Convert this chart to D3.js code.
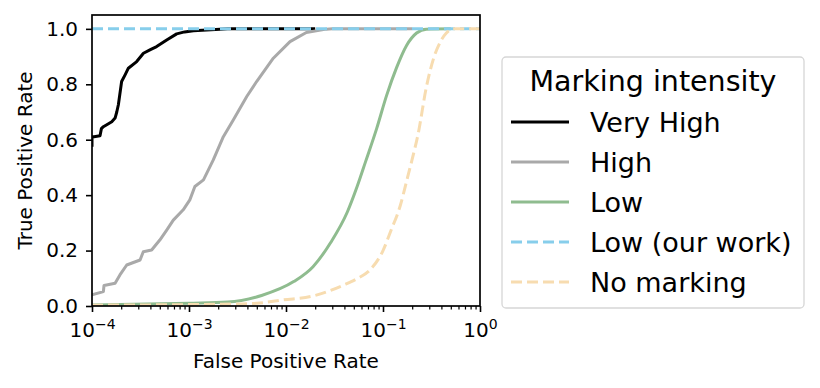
<!DOCTYPE html>
<html>
<head>
<meta charset="utf-8">
<script src="https://cdn.jsdelivr.net/npm/d3@7"></script>
<style>
  body { margin: 0; background: #fff; }
  text { font-family: "DejaVu Sans", sans-serif; fill: #000; }
</style>
</head>
<body>
<script>
// ROC curves (FPR on log scale)
const veryHighFpr = [1e-4, 1e-4, 1.05e-4, 1.21e-4, 1.25e-4, 1.31e-4, 1.6e-4, 1.73e-4, 1.8e-4, 1.87e-4, 2.02e-4, 2.2e-4, 2.37e-4, 2.89e-4, 3.39e-4, 4.0e-4, 4.64e-4, 5.89e-4, 7.46e-4, 9.0e-4, 1.11e-3, 2.09e-3, 2.5e-3, 0.02];
const veryHighTpr = [0.575, 0.611, 0.611, 0.614, 0.640, 0.647, 0.665, 0.678, 0.700, 0.726, 0.810, 0.835, 0.858, 0.882, 0.912, 0.925, 0.936, 0.960, 0.982, 0.989, 0.993, 0.999, 1.0, 1.0];

const highFpr = [1e-4, 1.31e-4, 1.33e-4, 1.73e-4, 1.94e-4, 2.28e-4, 3.13e-4, 3.38e-4, 4.12e-4, 5.0e-4, 5.89e-4, 6.89e-4, 8.72e-4, 1.02e-3, 1.15e-3, 1.41e-3, 1.78e-3, 2.26e-3, 2.86e-3, 3.94e-3, 4.98e-3, 7.4e-3, 1.1e-2, 1.62e-2, 2.6e-2, 3.0e-2, 0.2];
const highTpr = [0.040, 0.052, 0.074, 0.082, 0.112, 0.148, 0.166, 0.196, 0.202, 0.238, 0.274, 0.310, 0.347, 0.383, 0.431, 0.455, 0.527, 0.611, 0.671, 0.756, 0.810, 0.894, 0.954, 0.987, 0.999, 1.0, 1.0];

const lowFpr = [1e-4, 1e-3, 2.5e-3, 5.6e-3, 1.2e-2, 1.9e-2, 2.9e-2, 4.3e-2, 5.4e-2, 6.6e-2, 8.6e-2, 0.109, 0.138, 0.175, 0.222, 0.28, 0.5];
const lowTpr = [0.004, 0.010, 0.014, 0.038, 0.088, 0.142, 0.230, 0.340, 0.430, 0.520, 0.640, 0.760, 0.860, 0.940, 0.985, 0.999, 1.0];

const oursFpr = [1e-4, 1];
const oursTpr = [1.0, 1.0];

const noneFpr = [1e-4, 2.86e-3, 4.98e-3, 9.4e-3, 1.9e-2, 3.89e-2, 5.5e-2, 7.35e-2, 0.1, 0.12, 0.15, 0.175, 0.2, 0.23, 0.28, 0.33, 0.4, 0.45, 0.53, 1.0];
const noneTpr = [0.003, 0.007, 0.010, 0.022, 0.036, 0.075, 0.100, 0.130, 0.200, 0.270, 0.360, 0.450, 0.530, 0.620, 0.790, 0.890, 0.960, 0.985, 1.0, 1.0];

const seriesNames = ["Very High", "High", "Low", "Low (our work)", "No marking"];
const seriesColors = ["#000000", "#a9a9a9", "#8fbc8f", "#87ceeb", "#f7dcb0"];
const seriesDashed = [false, false, false, true, true];
const seriesSmooth = [false, false, true, false, true];

const xTickValues = [1e-4, 1e-3, 1e-2, 1e-1, 1];
const xTickExps = ["\u22124", "\u22123", "\u22122", "\u22121", "0"];
const yTickValues = [0, 0.2, 0.4, 0.6, 0.8, 1.0];

const series = [
  [veryHighFpr, veryHighTpr], [highFpr, highTpr], [lowFpr, lowTpr],
  [oursFpr, oursTpr], [noneFpr, noneTpr]
].map(([fx, fy], i) => ({
  name: seriesNames[i], color: seriesColors[i], dashed: seriesDashed[i], smooth: seriesSmooth[i],
  points: fx.map((v, j) => [v, fy[j]])
}));

const width = 820, height = 388;
const margin = { left: 92, right: 340, top: 15, bottom: 82 };

const svg = d3.select("body").append("svg")
    .attr("width", width)
    .attr("height", height);

const x = d3.scaleLog().domain([1e-4, 1]).range([margin.left, width - margin.right]);
const y = d3.scaleLinear().domain([0, 1.05]).range([height - margin.bottom, margin.top]);

svg.append("clipPath").attr("id", "clip")
  .append("rect")
    .attr("x", x.range()[0]).attr("y", y.range()[1])
    .attr("width", x.range()[1] - x.range()[0])
    .attr("height", y.range()[0] - y.range()[1]);

const line = d3.line().x(d => x(d[0])).y(d => y(d[1]));
const smoothLine = d3.line().x(d => x(d[0])).y(d => y(d[1])).curve(d3.curveMonotoneX);

svg.append("g").attr("clip-path", "url(#clip)")
  .selectAll("path")
  .data(series)
  .enter()
  .append("path")
    .attr("d", d => d.smooth ? smoothLine(d.points) : line(d.points))
    .attr("fill", "none")
    .attr("stroke", d => d.color)
    .attr("stroke-width", 3)
    .attr("stroke-linejoin", "round")
    .attr("stroke-dasharray", d => d.dashed ? "11,5" : null);

// x axis: major + minor ticks
const minorTicks = [];
for (let e = -4; e < 0; e++) for (let k = 2; k <= 9; k++) minorTicks.push(k * Math.pow(10, e));

const xAxisG = svg.append("g").attr("transform", `translate(0,${y(0)})`);
xAxisG.append("g")
    .call(d3.axisBottom(x).tickValues(minorTicks).tickSize(3.5).tickFormat(""))
    .call(g => g.select(".domain").remove())
    .selectAll("line").attr("stroke-width", 1.2);
const xMajor = xAxisG.append("g")
    .call(d3.axisBottom(x).tickValues(xTickValues).tickSize(6).tickFormat(""))
    .call(g => g.select(".domain").remove());
xMajor.selectAll("line").attr("stroke-width", 1.6);
xMajor.selectAll(".tick").each(function(d, i) {
  const t = d3.select(this).append("text")
      .attr("y", 31)
      .attr("text-anchor", "middle")
      .style("font-size", "20px");
  t.append("tspan").text("10");
  t.append("tspan").attr("dy", -8).style("font-size", "14px").text(xTickExps[i]);
});
xMajor.selectAll("text").attr("fill", "#000");

// y axis
const yAxisG = svg.append("g").attr("transform", `translate(${x(1e-4)},0)`)
    .call(d3.axisLeft(y).tickValues(yTickValues).tickSize(6).tickPadding(8).tickFormat(d3.format(".1f")))
    .call(g => g.select(".domain").remove());
yAxisG.selectAll("line").attr("stroke-width", 1.6);
yAxisG.selectAll("text").style("font-size", "20px").attr("fill", "#000");

// frame
svg.append("rect")
    .attr("x", x.range()[0]).attr("y", y.range()[1])
    .attr("width", x.range()[1] - x.range()[0])
    .attr("height", y.range()[0] - y.range()[1])
    .attr("fill", "none").attr("stroke", "#000").attr("stroke-width", 1.7);

// axis labels
svg.append("text")
    .attr("x", (x.range()[0] + x.range()[1]) / 2)
    .attr("y", 368)
    .attr("text-anchor", "middle")
    .style("font-size", "20px")
    .text("False Positive Rate");

svg.append("text")
    .attr("transform", `translate(32,${(y.range()[0] + y.range()[1]) / 2}) rotate(-90)`)
    .attr("text-anchor", "middle")
    .style("font-size", "20px")
    .text("True Positive Rate");

// legend
const legend = svg.append("g");
legend.append("rect")
    .attr("x", 502).attr("y", 57)
    .attr("width", 302).attr("height", 251)
    .attr("rx", 4)
    .attr("fill", "#fff")
    .attr("stroke", "#d6d6d6")
    .attr("stroke-width", 1.3);
legend.append("text")
    .attr("x", 653).attr("y", 91)
    .attr("text-anchor", "middle")
    .style("font-size", "28.5px")
    .text("Marking intensity");

const items = legend.selectAll(".item")
  .data(series)
  .enter()
  .append("g")
    .attr("class", "item")
    .attr("transform", (d, i) => `translate(0,${132 + i * 40})`);
items.append("line")
    .attr("x1", 511).attr("x2", 569)
    .attr("y1", -10).attr("y2", -10)
    .attr("stroke", d => d.color)
    .attr("stroke-width", 3)
    .attr("stroke-dasharray", d => d.dashed ? "11,5" : null);
items.append("text")
    .attr("x", 590)
    .style("font-size", "27px")
    .text(d => d.name);
</script>
</body>
</html>
